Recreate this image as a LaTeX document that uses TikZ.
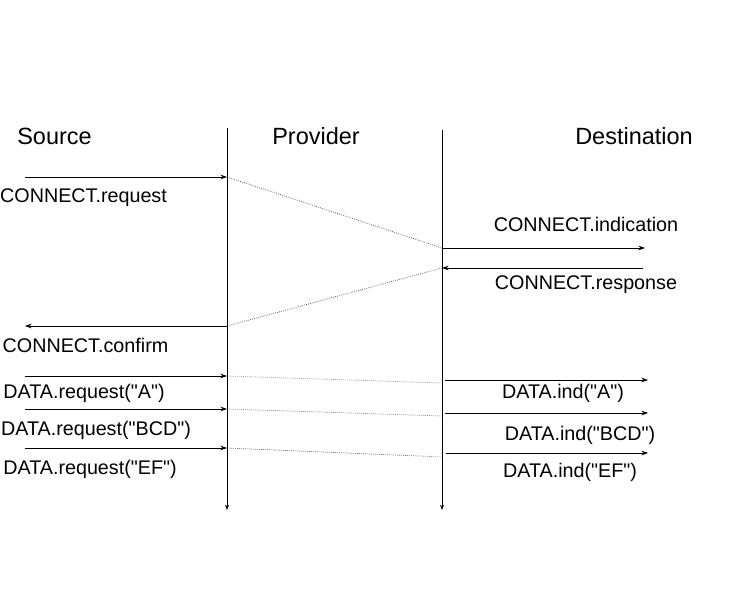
\documentclass[tikz,border=0pt]{standalone}
\usepackage{fontspec}
\setmainfont{Liberation Sans}
\usetikzlibrary{arrows.meta}
\newcommand{\qq}[1]{\textquotedbl#1\textquotedbl}
\begin{document}
\begin{tikzpicture}[x=0.75pt,y=-0.75pt,
  head/.style={font=\fontsize{17.6}{20}\selectfont, inner sep=0pt, anchor=base},
  lbl/.style={font=\fontsize{14.8}{17}\selectfont, inner sep=0pt, anchor=base},
  life/.style={line width=0.6pt, -{Stealth[length=4pt,width=3pt]}},
  msg/.style={line width=0.6pt, -{Stealth[length=5pt,width=3.5pt]}},
  trans/.style={line width=0.5pt, densely dotted, black!80}]
\useasboundingbox (0,0) rectangle (744,592);

% entity headings
\node[head] (src) at (54.5,145) {Source};
\node[head] (prov) at (316,145) {Provider};
\node[head] (dst) at (634,145) {Destination};

% lifelines
\coordinate (pt) at (227,128);
\coordinate (pb) at (227,510);
\coordinate (dt) at (442,130);
\coordinate (db) at (442,510);
\draw[life] (pt) -- (pb);
\draw[life] (dt) -- (db);

% connection establishment
\coordinate (creqS) at (25,177);   \coordinate (creqP) at (227,177);
\coordinate (cindD) at (442,248);  \coordinate (cindE) at (645,248);
\coordinate (crspE) at (643,268);  \coordinate (crspD) at (442,268);
\coordinate (ccnfP) at (227,326);  \coordinate (ccnfS) at (25,326);

\draw[msg] (creqS) -- (creqP);
\draw[trans] (creqP) -- (cindD);
\draw[msg] (cindD) -- (cindE);
\draw[msg] (crspE) -- (crspD);
\draw[trans] (crspD) -- (ccnfP);
\draw[msg] (ccnfP) -- (ccnfS);

\node[lbl] (lcreq) at (83.5,203) {CONNECT.request};
\node[lbl] (lcind) at (586,232) {CONNECT.indication};
\node[lbl] (lcrsp) at (586,290) {CONNECT.response};
\node[lbl] (lccnf) at (85.5,352) {CONNECT.confirm};

% data transfer
\coordinate (d1S) at (25,376);  \coordinate (d1P) at (227,376);
\coordinate (d1D) at (442,383); \coordinate (d1a) at (445,380); \coordinate (d1E) at (648,380);
\coordinate (d2S) at (25,409);  \coordinate (d2P) at (227,409);
\coordinate (d2D) at (442,416); \coordinate (d2a) at (445,413); \coordinate (d2E) at (648,413);
\coordinate (d3S) at (25,448);  \coordinate (d3P) at (227,448);
\coordinate (d3D) at (442,457); \coordinate (d3a) at (446,453); \coordinate (d3E) at (648,453);

\draw[msg] (d1S) -- (d1P);
\draw[msg] (d2S) -- (d2P);
\draw[msg] (d3S) -- (d3P);
\draw[trans, black!55] (d1P) -- (d1D);
\draw[trans, black!65] (d2P) -- (d2D);
\draw[trans] (d3P) -- (d3D);
\draw[msg] (d1a) -- (d1E);
\draw[msg] (d2a) -- (d2E);
\draw[msg] (d3a) -- (d3E);

\node[lbl] (ld1r) at (84,398) {DATA.request(\qq{A})};
\node[lbl] (ld2r) at (96,435) {DATA.request(\qq{BCD})};
\node[lbl] (ld3r) at (90,474) {DATA.request(\qq{EF})};
\node[lbl] (ld1i) at (563,398) {DATA.ind(\qq{A})};
\node[lbl] (ld2i) at (580,440) {DATA.ind(\qq{BCD})};
\node[lbl] (ld3i) at (570,477) {DATA.ind(\qq{EF})};
\end{tikzpicture}
\end{document}
